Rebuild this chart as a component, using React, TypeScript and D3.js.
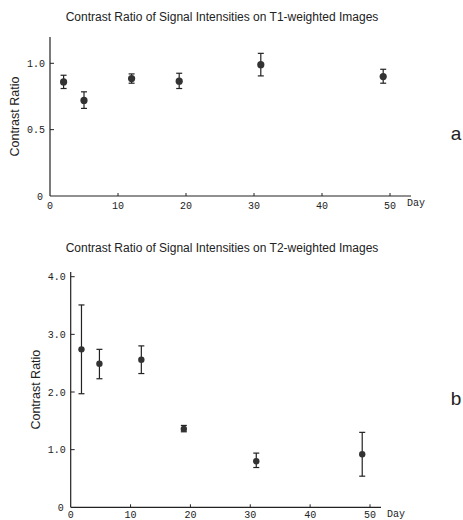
import React from "react";
import * as d3 from "d3";

// days of measurement (shared by both panels)
const days = [2, 5, 12, 19, 31, 49];

// panel a: T1-weighted
const t1Mean = [0.86, 0.72, 0.885, 0.865, 0.99, 0.9];
const t1Low = [0.81, 0.66, 0.85, 0.81, 0.905, 0.85];
const t1High = [0.91, 0.785, 0.92, 0.925, 1.075, 0.955];
const t1Ticks = [0.5, 1.0];

// panel b: T2-weighted
const t2Days = [1.8, 4.8, 11.8, 18.9, 31, 48.7];
const t2Mean = [2.74, 2.49, 2.56, 1.36, 0.8, 0.92];
const t2Low = [1.97, 2.23, 2.32, 1.31, 0.69, 0.54];
const t2High = [3.51, 2.74, 2.8, 1.42, 0.94, 1.3];
const t2Ticks = [1.0, 2.0, 3.0, 4.0];

const xTicks = [0, 10, 20, 30, 40, 50];

const ink = "#222";
const mono = "'Liberation Mono', 'DejaVu Sans Mono', monospace";
const sans = "'Liberation Sans', Arial, sans-serif";

type PanelProps = {
  title: string;
  letter: string;
  xs: number[];
  mean: number[];
  low: number[];
  high: number[];
  yTicks: number[];
  yMax: number;
  x0: number;
  x50: number;
  xEnd: number;
  dayX: number;
  yBase: number;
  yTop: number;
  axisTop: number;
  xLabelDy: number;
  titleY: number;
  labelX: number;
  letterY: number;
  r: number;
};

function Panel(p: PanelProps) {
  const x = d3.scaleLinear().domain([0, 50]).range([p.x0, p.x50]);
  const y = d3.scaleLinear().domain([0, p.yMax]).range([p.yBase, p.yTop]);
  const data = p.xs.map((d, i) => ({ d, m: p.mean[i], lo: p.low[i], hi: p.high[i] }));

  return (
    <g>
      <text x={222} y={p.titleY} textAnchor="middle" fontFamily={sans} fontSize={12} fill={ink}>
        {p.title}
      </text>

      {/* axes */}
      <line x1={p.x0} x2={p.x0} y1={p.axisTop} y2={p.yBase} stroke={ink} strokeWidth={1.2} />
      <line x1={p.x0} x2={p.xEnd} y1={p.yBase} y2={p.yBase} stroke={ink} strokeWidth={1.2} />

      {xTicks.map((t) => (
        <g key={"x" + t}>
          {t > 0 && <line x1={x(t)} x2={x(t)} y1={p.yBase} y2={p.yBase - 3} stroke={ink} />}
          <text x={x(t)} y={p.yBase + p.xLabelDy} textAnchor="middle" fontFamily={mono} fontSize={10} fill={ink}>
            {t}
          </text>
        </g>
      ))}
      <text x={p.dayX} y={p.yBase + 10} fontFamily={mono} fontSize={10} fill={ink}>
        Day
      </text>

      {p.yTicks.map((t) => (
        <g key={"y" + t}>
          <line x1={p.x0} x2={p.x0 + 4} y1={y(t)} y2={y(t)} stroke={ink} />
          <text x={p.x0 - 5} y={y(t) + 3.5} textAnchor="end" fontFamily={mono} fontSize={10} fill={ink}>
            {t.toFixed(1)}
          </text>
        </g>
      ))}
      <text x={p.x0 - 10} y={p.yBase + 4} textAnchor="middle" fontFamily={mono} fontSize={10} fill={ink}>
        0
      </text>

      <text
        transform={`translate(${p.labelX},${(p.yBase + p.axisTop) / 2}) rotate(-90)`}
        textAnchor="middle"
        fontFamily={sans}
        fontSize={12.5}
        fill={ink}
      >
        Contrast Ratio
      </text>

      {/* error bars and means */}
      {data.map((v, i) => (
        <g key={i}>
          <line x1={x(v.d)} x2={x(v.d)} y1={y(v.lo)} y2={y(v.hi)} stroke={ink} strokeWidth={1.2} />
          <line x1={x(v.d) - 3} x2={x(v.d) + 3} y1={y(v.lo)} y2={y(v.lo)} stroke={ink} strokeWidth={1.2} />
          <line x1={x(v.d) - 3} x2={x(v.d) + 3} y1={y(v.hi)} y2={y(v.hi)} stroke={ink} strokeWidth={1.2} />
          <circle cx={x(v.d)} cy={y(v.m)} r={p.r} fill="#333" />
        </g>
      ))}

      <text x={456} y={p.letterY} textAnchor="middle" fontFamily={sans} fontSize={19} fill={ink}>
        {p.letter}
      </text>
    </g>
  );
}

export default function App() {
  return (
    <svg width={463} height={520} style={{ position: "absolute", left: 0, top: 0, background: "#fff" }}>
      <Panel
        title="Contrast Ratio of Signal Intensities on T1-weighted Images"
        letter="a"
        xs={days}
        mean={t1Mean}
        low={t1Low}
        high={t1High}
        yTicks={t1Ticks}
        yMax={1}
        x0={50}
        x50={390}
        xEnd={411}
        dayX={407}
        yBase={196}
        yTop={63.3}
        axisTop={37}
        xLabelDy={13}
        titleY={21}
        labelX={19}
        letterY={140}
        r={3.6}
      />
      <Panel
        title="Contrast Ratio of Signal Intensities on T2-weighted Images"
        letter="b"
        xs={t2Days}
        mean={t2Mean}
        low={t2Low}
        high={t2High}
        yTicks={t2Ticks}
        yMax={4}
        x0={70.7}
        x50={370}
        xEnd={381}
        dayX={387}
        yBase={507.3}
        yTop={276.7}
        axisTop={272}
        xLabelDy={11}
        titleY={252}
        labelX={40}
        letterY={405}
        r={3.2}
      />
    </svg>
  );
}
